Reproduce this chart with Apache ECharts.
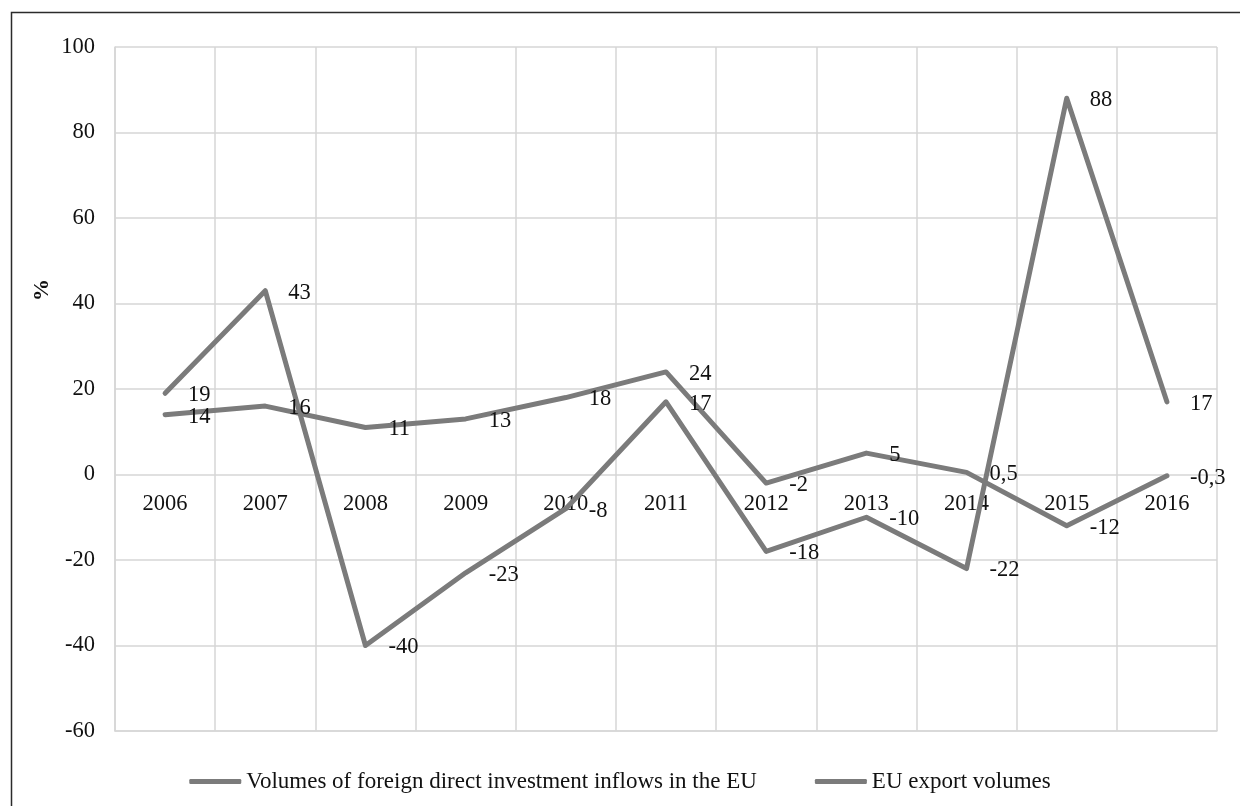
<!DOCTYPE html>
<html>
<head>
<meta charset="utf-8">
<script src="https://cdn.jsdelivr.net/npm/echarts@6/dist/echarts.min.js"></script>
<style>
  html, body { margin: 0; padding: 0; background: #ffffff; }
  #chart { width: 1240px; height: 806px; }
</style>
</head>
<body>
<div id="chart"></div>
<script>
// Years on the category axis
const years = ['2006', '2007', '2008', '2009', '2010', '2011', '2012', '2013', '2014', '2015', '2016'];

// Annual change, %
const fdiInflows = [19, 43, -40, -23, -8, 17, -18, -10, -22, 88, 17];
const exportVolumes = [14, 16, 11, 13, 18, 24, -2, 5, 0.5, -12, -0.3];

// Series names shown in the legend
const fdiName = 'Volumes of foreign direct investment inflows in the EU';
const exportName = 'EU export volumes';

// Value axis range
const yMin = -60, yMax = 100, yStep = 20;

const serif = '"Liberation Serif", "DejaVu Serif", serif';
const lineGray = '#7b7b7b';
const gridGray = '#d6d6d6';

// Values are printed with a decimal comma
const fmt = v => String(v).replace('.', ',');

// Plot area (pixels)
const gridTop = 47, gridBottom = 75, chartHeight = 806;
const plotHeight = chartHeight - gridTop - gridBottom;
// Year labels sit just under the zero line rather than at the bottom edge
const zeroFromBottom = plotHeight * (0 - yMin) / (yMax - yMin);
const yearLabelMargin = 18 - zeroFromBottom;

function lineSeries(name, data) {
  return {
    name: name,
    type: 'line',
    data: data,
    symbol: 'circle',
    symbolSize: 2,
    itemStyle: { color: lineGray },
    lineStyle: { color: lineGray, width: 5, cap: 'round', join: 'round' },
    label: {
      show: true,
      position: 'right',
      distance: 22,
      offset: [0, 2],
      color: '#111',
      fontFamily: serif,
      fontSize: 22.5,
      formatter: p => fmt(p.value)
    },
    emphasis: { disabled: true },
    animation: false
  };
}

const chart = echarts.init(document.getElementById('chart'), null, { renderer: 'canvas' });
chart.setOption({
  backgroundColor: '#ffffff',
  animation: false,
  grid: { left: 115, right: 23, top: gridTop, bottom: gridBottom, containLabel: false },
  xAxis: {
    type: 'category',
    data: years,
    boundaryGap: true,
    axisLine: { show: true, onZero: false, lineStyle: { color: gridGray, width: 1.5 } },
    axisTick: { show: false },
    axisLabel: { color: '#111', fontFamily: serif, fontSize: 22.5, margin: yearLabelMargin },
    splitLine: { show: true, lineStyle: { color: gridGray, width: 1.5 } }
  },
  yAxis: {
    type: 'value',
    min: yMin,
    max: yMax,
    interval: yStep,
    axisLine: { show: true, lineStyle: { color: gridGray, width: 1.5 } },
    axisTick: { show: false },
    axisLabel: { color: '#111', fontFamily: serif, fontSize: 22.5, margin: 20 },
    splitLine: { show: true, lineStyle: { color: gridGray, width: 1.5 } }
  },
  legend: {
    left: 'center',
    top: 765,
    itemWidth: 52,
    itemHeight: 5,
    itemGap: 58,
    icon: 'roundRect',
    textStyle: { color: '#111', fontFamily: serif, fontSize: 23 },
    data: [
      { name: fdiName, itemStyle: { color: lineGray } },
      { name: exportName, itemStyle: { color: lineGray } }
    ]
  },
  graphic: [
    {
      type: 'rect',
      left: 9, top: 10,
      shape: { width: 1300, height: 900 },
      style: { fill: 'none', stroke: '#2b2b2b', lineWidth: 1.5 },
      silent: true
    },
    {
      type: 'text',
      x: 42, y: 290,
      rotation: Math.PI / 2,
      style: {
        text: '%',
        fill: '#111',
        font: 'bold 22px ' + serif,
        textAlign: 'center',
        textVerticalAlign: 'middle'
      },
      silent: true
    }
  ],
  series: [
    lineSeries(fdiName, fdiInflows),
    lineSeries(exportName, exportVolumes)
  ]
});
</script>
</body>
</html>
